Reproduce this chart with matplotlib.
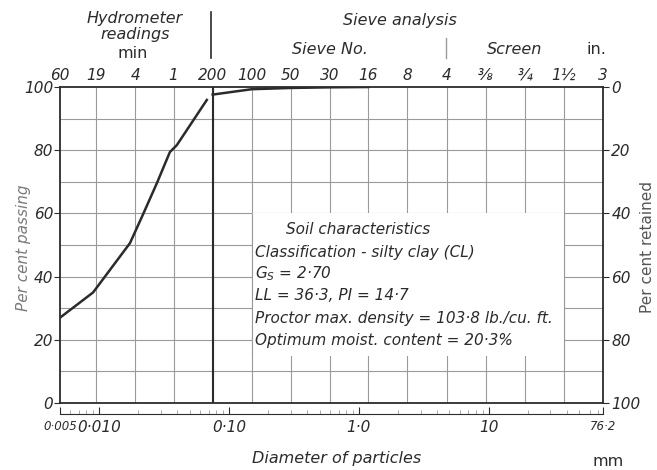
#!/usr/bin/env python3
"""Grain size distribution curve: hydrometer + sieve analysis, silty clay (CL)."""

import matplotlib

matplotlib.use('Agg')
import matplotlib.pyplot as plt
from matplotlib.patches import Rectangle
from matplotlib.ticker import LogLocator, NullFormatter

# top scale: hydrometer readings (min) then sieve / screen sizes, with openings in mm
top_labels = ['60', '19', '4', '1', '200', '100', '50', '30', '16', '8', '4',
              '⅜', '¾', '1½', '3']
top_diam_mm = [0.005, 0.0095, 0.019, 0.0375, 0.075, 0.15, 0.30, 0.60, 1.18,
               2.36, 4.75, 9.5, 19.0, 38.1, 76.2]

# bottom diameter scale
bottom_ticks = [0.005, 0.010, 0.10, 1.0, 10.0, 76.2]
bottom_labels = ['0·005', '0·010', '0·10', '1·0', '10', '76·2']

# percent passing, hydrometer part
hydro_diam = [0.005, 0.0090, 0.0173, 0.0217, 0.0279, 0.0351, 0.0397, 0.0676]
hydro_pass = [27.0, 35.0, 50.6, 59.5, 69.6, 79.4, 81.6, 95.9]

# percent passing, sieve part
sieve_diam = [0.075, 0.15, 0.30, 0.60, 1.18]
sieve_pass = [97.6, 99.3, 99.7, 99.9, 100.0]

soil_lines = [
    'Classification - silty clay (CL)',
    r'$G_S$ = 2·70',
    'LL = 36·3, PI = 14·7',
    'Proctor max. density = 103·8 lb./cu. ft.',
    'Optimum moist. content = 20·3%',
]

INK = '#2b2b2b'
GRID = '#9a9a9a'
W, H = 657, 470

plt.rcParams['font.family'] = ['DejaVu Sans']

fig = plt.figure(figsize=(W / 100, H / 100), dpi=100)
ax = fig.add_axes([60 / W, 1 - 403 / H, 543 / W, 316 / H])


def ftext(x, y, s, **kw):
    # place text by pixel position in the figure
    kw.setdefault('color', INK)
    kw.setdefault('ha', 'center')
    kw.setdefault('va', 'center')
    fig.text(x / W, 1 - y / H, s, **kw)


ax.set_xscale('log')
ax.set_xlim(0.005, 76.2)
ax.set_ylim(0, 100)

# grid
ax.vlines(top_diam_mm[1:-1], 0, 100, color=GRID, lw=0.8, zorder=1)
ax.hlines(range(10, 100, 10), 0.005, 76.2, color=GRID, lw=0.8, zorder=1)
ax.vlines([0.075], 0, 100, color=INK, lw=1.5, zorder=4)

# white panel behind the soil data
ax.add_patch(Rectangle((0.15, 15), 38.1 - 0.15, 45, facecolor='white',
                       edgecolor='none', zorder=2))
ax.vlines([0.15, 38.1], 15, 60, color=GRID, lw=0.8, zorder=3)

# curves
ax.plot(hydro_diam, hydro_pass, color=INK, lw=1.8, zorder=5)
ax.plot(sieve_diam, sieve_pass, color=INK, lw=1.8, zorder=5)

for side in ax.spines.values():
    side.set_color(INK)
    side.set_linewidth(1.3)

ax.set_xticks([])
ax.xaxis.set_minor_locator(matplotlib.ticker.NullLocator())
ax.set_yticks(range(0, 101, 20))
ax.tick_params(axis='y', direction='out', length=4, color=INK,
               labelsize=11, labelcolor=INK, pad=1)
for lab in ax.get_yticklabels():
    lab.set_fontstyle('italic')

# right: per cent retained
ax2 = ax.twinx()
ax2.set_ylim(100, 0)
ax2.set_yticks(range(0, 101, 20))
ax2.tick_params(axis='y', direction='out', length=4, color=INK,
                labelsize=11, labelcolor=INK, pad=2)
for lab in ax2.get_yticklabels():
    lab.set_fontstyle('italic')
for side in ax2.spines.values():
    side.set_visible(False)

# top scale
top = ax.secondary_xaxis('top')
top.set_xticks(top_diam_mm, labels=top_labels)
top.xaxis.set_minor_locator(matplotlib.ticker.NullLocator())
top.tick_params(length=0, pad=3, labelsize=11, labelcolor=INK)
top.spines['top'].set_visible(False)
for lab in top.get_xticklabels():
    lab.set_fontstyle('italic')

# bottom ruler
bot = ax.secondary_xaxis(-0.035)
bot.set_xticks(bottom_ticks, labels=bottom_labels)
bot.xaxis.set_minor_locator(LogLocator(base=10, subs=range(2, 10)))
bot.xaxis.set_minor_formatter(NullFormatter())
bot.tick_params(which='major', direction='in', length=5, color=INK,
                labelsize=11, labelcolor=INK, pad=4)
bot.tick_params(which='minor', direction='in', length=3, color=GRID)
bot.spines['bottom'].set_color(INK)
for i, lab in enumerate(bot.get_xticklabels()):
    lab.set_fontstyle('italic')
    if i in (0, len(bottom_labels) - 1):
        lab.set_fontsize(8.5)

# headers
ftext(135, 19, 'Hydrometer', fontsize=11.5, style='italic')
ftext(135, 35, 'readings', fontsize=11.5, style='italic')
ftext(133, 54, 'min', fontsize=11.5)
ftext(400, 21, 'Sieve analysis', fontsize=11.5, style='italic')
ftext(330, 50, 'Sieve No.', fontsize=11.5, style='italic')
ftext(515, 50, 'Screen', fontsize=11.5, style='italic')
ftext(596, 50, 'in.', fontsize=11.5)
fig.add_artist(plt.Line2D([211 / W, 211 / W], [1 - 12 / H, 1 - 58 / H],
                          color=INK, lw=1.2))
fig.add_artist(plt.Line2D([446 / W, 446 / W], [1 - 38 / H, 1 - 58 / H],
                          color=GRID, lw=1.0))

# axis titles
ftext(24, 248, 'Per cent passing', fontsize=11, style='italic',
      rotation=90, color='#7a7a7a')
ftext(647, 247, 'Per cent retained', fontsize=11, rotation=90, color='#555555')
ftext(337, 459, 'Diameter of particles', fontsize=11.5, style='italic')
ftext(608, 461, 'mm', fontsize=11.5)

# soil characteristics
ftext(358, 229, 'Soil characteristics', fontsize=11, style='italic')
for i, line in enumerate(soil_lines):
    ftext(255, 252 + 22 * i, line, fontsize=11, style='italic', ha='left')

fig.savefig('out.png', dpi=100)
plt.close(fig)
